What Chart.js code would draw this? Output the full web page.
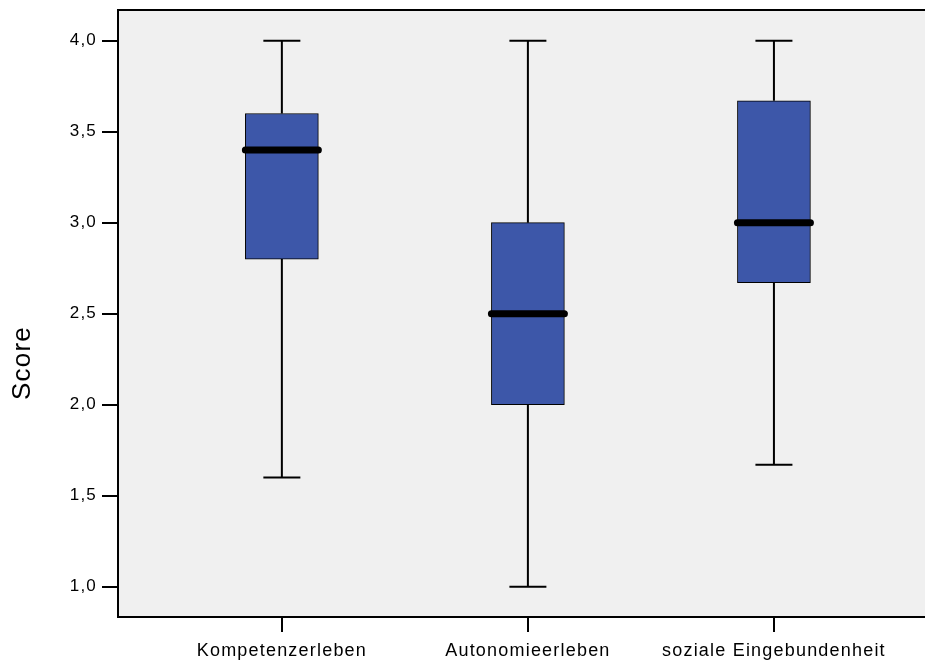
<!DOCTYPE html>
<html><head><meta charset="utf-8">
<script src="https://cdn.jsdelivr.net/npm/chart.js@4.4.1/dist/chart.umd.min.js"></script>
<style>html,body{margin:0;padding:0;background:#fff;}#wrap{width:925px;height:661px;}</style>
</head><body><div id="wrap"><canvas id="c" width="925" height="661"></canvas></div>
<script>
const categories = ['Kompetenzerleben', 'Autonomieerleben', 'soziale Eingebundenheit'];
const minVals    = [1.60, 1.00, 1.67];
const q1Vals     = [2.80, 2.00, 2.67];
const medianVals = [3.40, 2.50, 3.00];
const q3Vals     = [3.60, 3.00, 3.67];
const maxVals    = [4.00, 4.00, 4.00];
const yTickValues = [1.0, 1.5, 2.0, 2.5, 3.0, 3.5, 4.0];
const yAxisTitle = 'Score';

const FONT = "'Liberation Sans', Arial, sans-serif";
const SPACING = '1.2px';
const BOX_COLOR = '#3d57a9';
const PLOT_BG = '#f0f0f0';

const boxExtras = {
  id: 'boxExtras',
  beforeLayout(chart) { chart.ctx.letterSpacing = SPACING; },
  beforeDraw(chart) {
    const {ctx, chartArea: a} = chart;
    ctx.letterSpacing = SPACING;
    ctx.save();
    ctx.fillStyle = PLOT_BG;
    ctx.fillRect(a.left, a.top, a.right - a.left, a.bottom - a.top);
    ctx.restore();
  },
  beforeDatasetsDraw(chart) {
    const {ctx, scales: {x, y}} = chart;
    ctx.save();
    ctx.strokeStyle = '#000';
    ctx.lineWidth = 2;
    categories.forEach((c, i) => {
      const px = x.getPixelForValue(i + 1);
      const yMin = y.getPixelForValue(minVals[i]);
      const yMax = y.getPixelForValue(maxVals[i]);
      const yQ1 = y.getPixelForValue(q1Vals[i]);
      const yQ3 = y.getPixelForValue(q3Vals[i]);
      ctx.beginPath();
      ctx.moveTo(px, yMax); ctx.lineTo(px, yQ3);
      ctx.moveTo(px, yQ1); ctx.lineTo(px, yMin);
      ctx.moveTo(px - 18.5, yMax); ctx.lineTo(px + 18.5, yMax);
      ctx.moveTo(px - 18.5, yMin); ctx.lineTo(px + 18.5, yMin);
      ctx.stroke();
    });
    ctx.restore();
  },
  afterDatasetsDraw(chart) {
    const {ctx, scales: {x, y}} = chart;
    ctx.save();
    ctx.strokeStyle = '#000';
    ctx.lineWidth = 7;
    ctx.lineCap = 'round';
    categories.forEach((c, i) => {
      const px = x.getPixelForValue(i + 1);
      const ym = y.getPixelForValue(medianVals[i]);
      ctx.beginPath();
      ctx.moveTo(px - 36.5, ym); ctx.lineTo(px + 36.5, ym);
      ctx.stroke();
    });
    ctx.restore();
  },
  afterDraw(chart) {
    const {ctx, chartArea: a} = chart;
    ctx.save();
    ctx.strokeStyle = '#000';
    ctx.lineWidth = 2;
    ctx.strokeRect(a.left, a.top, a.right - a.left + 2, a.bottom - a.top);
    ctx.fillStyle = '#000';
    ctx.font = '26px ' + FONT;
    ctx.letterSpacing = SPACING;
    ctx.textAlign = 'center';
    ctx.textBaseline = 'middle';
    ctx.translate(23, 363);
    ctx.rotate(-Math.PI / 2);
    ctx.fillText(yAxisTitle, 0, 0);
    ctx.restore();
  }
};

new Chart(document.getElementById('c'), {
  type: 'bar',
  data: {
    datasets: [{
      data: categories.map((c, i) => ({x: i + 1, y: [q1Vals[i], q3Vals[i]]})),
      backgroundColor: BOX_COLOR,
      borderColor: '#000',
      borderWidth: 1,
      borderSkipped: false,
      barThickness: 73
    }]
  },
  options: {
    responsive: false,
    animation: false,
    devicePixelRatio: 1,
    layout: {padding: {top: 10, left: 0, right: 0, bottom: 0}},
    plugins: {legend: {display: false}, tooltip: {enabled: false}, title: {display: false}},
    scales: {
      x: {
        type: 'linear', min: 0.334, max: 3.614, offset: false,
        afterBuildTicks: s => { s.ticks = categories.map((c, i) => ({value: i + 1})); },
        afterFit: s => { s.height = 44; s.paddingLeft = 0; s.paddingRight = 0; },
        ticks: {
          callback: v => categories[Math.round(v) - 1],
          autoSkip: false, maxRotation: 0, color: '#000', padding: 8,
          font: {family: FONT, size: 18}
        },
        grid: {offset: false, drawOnChartArea: false, drawTicks: true, tickLength: 15, color: '#000', lineWidth: 2},
        border: {display: false}
      },
      y: {
        type: 'linear', min: 0.8335, max: 4.1687,
        afterBuildTicks: s => { s.ticks = yTickValues.map(v => ({value: v})); },
        afterFit: s => { s.width = 118; s.paddingTop = 0; s.paddingBottom = 0; },
        ticks: {
          callback: v => Number(v).toFixed(1).replace('.', ','),
          autoSkip: false, color: '#000', padding: 5,
          font: {family: FONT, size: 17}
        },
        grid: {drawOnChartArea: false, drawTicks: true, tickLength: 16, color: '#000', lineWidth: 2},
        border: {display: false}
      }
    }
  },
  plugins: [boxExtras]
});
</script>
</body></html>
